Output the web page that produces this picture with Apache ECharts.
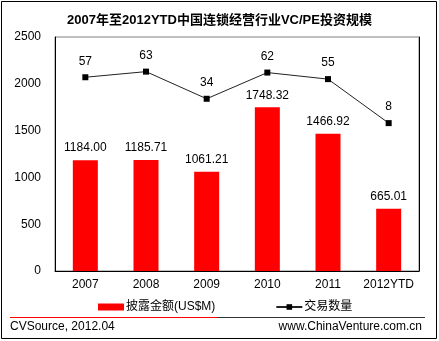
<!DOCTYPE html>
<html>
<head>
<meta charset="utf-8">
<script src="https://cdn.jsdelivr.net/npm/echarts@6/dist/echarts.min.js"></script>
<style>html,body{margin:0;padding:0;background:#fff;}#c{width:439px;height:341px;}</style>
</head>
<body>
<div id="c"></div>
<script>
var categories = ['2007', '2008', '2009', '2010', '2011', '2012YTD'];
var amountValues = [1184.00, 1185.71, 1061.21, 1748.32, 1466.92, 665.01];
var dealCounts = [57, 63, 34, 62, 55, 8];
var yTicks = [0, 500, 1000, 1500, 2000, 2500];
var titleText = '2007年至2012YTD中国连锁经营行业VC/PE投资规模';
var seriesNames = ['披露金额(US$M)', '交易数量'];

var FONT = '"Liberation Sans", Arial, "Noto Sans CJK SC", sans-serif';
var chart = echarts.init(document.getElementById('c'), null, {renderer: 'canvas'});
chart.setOption({
  animation: false,
  backgroundColor: '#fff',
  title: {
    text: titleText, left: 'center', top: 9,
    textStyle: {fontSize: 13, fontWeight: 'bold', color: '#000', fontFamily: FONT}
  },
  grid: {left: 55, right: 20, top: 37, bottom: 70, show: true, borderColor: '#808080', borderWidth: 1, containLabel: false},
  legend: {
    left: 98, top: 301, padding: 0, itemGap: 60, itemWidth: 26, itemHeight: 7,
    textStyle: {fontSize: 12, color: '#000', fontFamily: FONT, padding: [0, 0, 0, -3]},
    data: [{name: seriesNames[0], icon: 'rect'}, {name: seriesNames[1]}]
  },
  xAxis: {
    type: 'category', data: categories,
    axisLine: {lineStyle: {color: '#000'}},
    axisTick: {show: false},
    axisLabel: {fontSize: 12, color: '#000', fontFamily: FONT, margin: 8, interval: 0}
  },
  yAxis: [{
    type: 'value', min: yTicks[0], max: yTicks[yTicks.length - 1], interval: 500,
    axisLine: {show: true, lineStyle: {color: '#000'}},
    axisTick: {show: false},
    splitLine: {show: false},
    axisLabel: {fontSize: 12, color: '#000', fontFamily: FONT, margin: 14,
      formatter: function (v) { return String(v); }}
  }, {
    type: 'value', min: -150, max: 100, interval: 50,
    axisLine: {show: true, lineStyle: {color: '#000'}},
    axisTick: {show: false}, axisLabel: {show: false}, splitLine: {show: false}
  }],
  series: [{
    name: seriesNames[0], type: 'bar', data: amountValues, barWidth: 25,
    itemStyle: {color: '#ff0000'},
    label: {show: true, position: 'top', distance: 6, fontSize: 12, color: '#000', fontFamily: FONT,
      formatter: function (p) { return p.value.toFixed(2); }}
  }, {
    name: seriesNames[1], type: 'line', yAxisIndex: 1, data: dealCounts,
    symbol: 'rect', symbolSize: 6,
    itemStyle: {color: '#000'},
    lineStyle: {color: '#222', width: 1},
    label: {show: true, position: 'top', distance: 7, fontSize: 12, color: '#000', fontFamily: FONT}
  }],
  graphic: [
    {type: 'rect', shape: {x: 1.5, y: 1.5, width: 435, height: 337}, style: {fill: 'none', stroke: '#000', lineWidth: 1}, silent: true},
    {type: 'line', shape: {x1: 10, y1: 317.5, x2: 217, y2: 317.5}, style: {stroke: '#ff0000', lineWidth: 1}},
    {type: 'line', shape: {x1: 217, y1: 317.5, x2: 425, y2: 317.5}, style: {stroke: '#333', lineWidth: 1}},
    {type: 'text', left: 10, top: 321, style: {text: 'CVSource, 2012.04', fontSize: 12, fill: '#000', fontFamily: FONT}},
    {type: 'text', right: 17, top: 321, style: {text: 'www.ChinaVenture.com.cn', fontSize: 12, fill: '#000', fontFamily: FONT}}
  ]
});
</script>
</body>
</html>
